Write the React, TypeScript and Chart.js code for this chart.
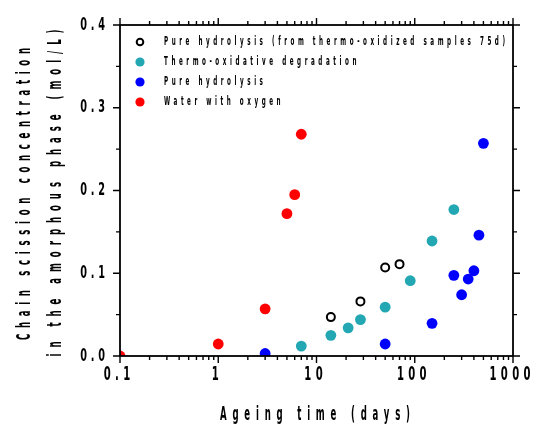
import React, { useEffect, useRef } from "react";
import { Chart, registerables } from "chart.js";

Chart.register(...registerables);

// ---- data ----
const preOxDays = [14, 28, 50, 70];
const preOxConc = [0.047, 0.066, 0.107, 0.111];

const thermoDays = [7, 14, 21, 28, 50, 90, 150, 250];
const thermoConc = [0.012, 0.025, 0.034, 0.044, 0.059, 0.091, 0.139, 0.177];

const pureDays = [3, 50, 150, 250, 300, 350, 400, 450, 500];
const pureConc = [0.003, 0.0145, 0.0395, 0.0975, 0.074, 0.093, 0.103, 0.146, 0.257];

const waterDays = [0.1, 1, 3, 5, 6, 7];
const waterConc = [0.0, 0.0145, 0.057, 0.172, 0.195, 0.268];

const seriesNames = [
  "Pure hydrolysis (from thermo-oxidized samples 75d)",
  "Thermo-oxidative degradation",
  "Pure hydrolysis",
  "Water with oxygen",
];

const xTickValues = [0.1, 1, 10, 100, 1000];
const xTickLabels = ["0.1", "1", "10", "100", "1000"];
const yTickValues = [0, 0.1, 0.2, 0.3, 0.4];
const yTickLabels = ["0.0", "0.1", "0.2", "0.3", "0.4"];

const xTitle = "Ageing time (days)";
const yTitle1 = "Chain scission concentration";
const yTitle2 = "in the amorphous phase (mol/L)";

const TEAL = "#22A7B3";
const FONT = "'Liberation Sans Narrow', 'DejaVu Sans Condensed', 'Arial Narrow', sans-serif";

type TOpts = {
  size: number;
  bold?: boolean;
  sx: number;
  spacing?: number;
  width?: number;
  align: "left" | "center" | "right";
  rotate?: number;
};

function drawText(ctx: CanvasRenderingContext2D, text: string, x: number, y: number, o: TOpts) {
  ctx.save();
  ctx.font = `${o.bold ? "bold " : ""}${o.size}px ${FONT}`;
  (ctx as any).letterSpacing = "0px";
  const nat = ctx.measureText(text).width;
  const n = Array.from(text).length;
  let spacing = o.spacing ?? 0;
  if (o.width != null && n > 1) spacing = (o.width - nat * o.sx) / (n - 1);
  const total = nat * o.sx + spacing * (n - 1);
  ctx.translate(x, y);
  if (o.rotate) ctx.rotate(o.rotate);
  const start = o.align === "left" ? 0 : o.align === "center" ? -total / 2 : -total;
  ctx.scale(o.sx, 1);
  (ctx as any).letterSpacing = `${spacing / o.sx}px`;
  ctx.textAlign = "left";
  ctx.textBaseline = "middle";
  ctx.fillStyle = "#000";
  ctx.fillText(text, start / o.sx, 0);
  ctx.restore();
  return spacing;
}

const decorPlugin = {
  id: "decor",
  afterDatasetsDraw(chart: any) {
    const { ctx, chartArea: a, scales } = chart;
    const xs = scales.x;
    const ys = scales.y;
    ctx.save();
    ctx.strokeStyle = "#000";
    ctx.lineWidth = 1.8;
    ctx.strokeRect(a.left, a.top, a.right - a.left, a.bottom - a.top);
    ctx.lineWidth = 1.4;
    ctx.beginPath();
    const xt: [number, boolean][] = [];
    for (let d = -1; d <= 2; d++) {
      for (let k = 1; k <= 9; k++) xt.push([k * Math.pow(10, d), k === 1]);
    }
    xt.push([1000, true]);
    for (const [v, major] of xt) {
      const px = xs.getPixelForValue(v);
      const len = major ? 7 : 4;
      ctx.moveTo(px, a.bottom);
      ctx.lineTo(px, a.bottom + len);
      ctx.moveTo(px, a.top);
      ctx.lineTo(px, a.top - len);
    }
    for (let i = 0; i <= 8; i++) {
      const py = ys.getPixelForValue(i * 0.05);
      const len = i % 2 === 0 ? 7 : 4;
      ctx.moveTo(a.left, py);
      ctx.lineTo(a.left - len, py);
      ctx.moveTo(a.right, py);
      ctx.lineTo(a.right + len, py);
    }
    ctx.stroke();
    ctx.restore();
  },
  afterDraw(chart: any) {
    const { ctx, chartArea: a, scales } = chart;
    const xs = scales.x;
    const ys = scales.y;
    // tick labels
    xTickValues.forEach((v, i) => {
      drawText(ctx, xTickLabels[i], xs.getPixelForValue(v) - 3, a.bottom + 19, {
        size: 20, bold: true, sx: 0.56, spacing: 4.3, align: "center",
      });
    });
    yTickValues.forEach((v, i) => {
      drawText(ctx, yTickLabels[i], a.left - 15, ys.getPixelForValue(v), {
        size: 18, bold: true, sx: 0.6, spacing: 3.8, align: "right",
      });
    });
    // axis titles
    drawText(ctx, xTitle, 315, 415, { size: 19, bold: true, sx: 0.5, width: 190, align: "center" });
    drawText(ctx, yTitle1, 25, 194, { size: 19, bold: true, sx: 0.5, width: 292, align: "center", rotate: -Math.PI / 2 });
    drawText(ctx, yTitle2, 56, 193, { size: 19, bold: true, sx: 0.5, width: 327, align: "center", rotate: -Math.PI / 2 });
    // legend
    const rows = [42, 62, 82, 102];
    const mx = 140;
    const tx = 164;
    let sp = 0;
    seriesNames.forEach((name, i) => {
      const y = rows[i];
      ctx.save();
      ctx.beginPath();
      if (i === 0) {
        ctx.arc(mx, y, 3.3, 0, Math.PI * 2);
        ctx.strokeStyle = "#000";
        ctx.lineWidth = 2;
        ctx.stroke();
      } else {
        ctx.arc(mx, y, 4.6, 0, Math.PI * 2);
        ctx.fillStyle = i === 1 ? TEAL : i === 2 ? "#0000FF" : "#FF0000";
        ctx.fill();
      }
      ctx.restore();
      if (i === 0) {
        sp = drawText(ctx, name, tx, y, { size: 12.5, bold: true, sx: 0.5, width: 341, align: "left" });
      } else {
        drawText(ctx, name, tx, y, { size: 12.5, bold: true, sx: 0.5, spacing: sp, align: "left" });
      }
    });
  },
};

function toPoints(xs: number[], ys: number[]) {
  return xs.map((x, i) => ({ x, y: ys[i] }));
}

export default function App() {
  const ref = useRef<HTMLCanvasElement | null>(null);
  useEffect(() => {
    if (!ref.current) return;
    const chart = new Chart(ref.current, {
      type: "scatter",
      data: {
        datasets: [
          {
            label: seriesNames[0],
            data: toPoints(preOxDays, preOxConc),
            backgroundColor: "rgba(0,0,0,0)",
            borderColor: "#000",
            borderWidth: 2,
            pointRadius: 4,
            clip: 0,
          },
          {
            label: seriesNames[1],
            data: toPoints(thermoDays, thermoConc),
            backgroundColor: TEAL,
            borderWidth: 0,
            pointRadius: 5.4,
            clip: 0,
          },
          {
            label: seriesNames[2],
            data: toPoints(pureDays, pureConc),
            backgroundColor: "#0000FF",
            borderWidth: 0,
            pointRadius: 5.4,
            clip: 0,
          },
          {
            label: seriesNames[3],
            data: toPoints(waterDays, waterConc),
            backgroundColor: "#FF0000",
            borderWidth: 0,
            pointRadius: 5.4,
            clip: 0,
          },
        ],
      },
      options: {
        animation: false,
        responsive: false,
        events: [],
        layout: { padding: { top: 25, right: 20, left: 0, bottom: 0 } },
        plugins: { legend: { display: false }, tooltip: { enabled: false } },
        scales: {
          x: {
            type: "logarithmic",
            min: 0.1,
            max: 1000,
            grid: { display: false },
            border: { display: false },
            ticks: { display: false },
            afterFit: (s: any) => { s.height = 69; },
          },
          y: {
            type: "linear",
            min: 0,
            max: 0.4,
            grid: { display: false },
            border: { display: false },
            ticks: { display: false, stepSize: 0.1 },
            afterFit: (s: any) => { s.width = 120; },
          },
        },
      },
      plugins: [decorPlugin],
    } as any);
    return () => chart.destroy();
  }, []);
  return (
    <div style={{ position: "absolute", left: 0, top: 0, width: 533, height: 425, background: "#fff" }}>
      <canvas ref={ref} width={533} height={425} style={{ display: "block" }} />
    </div>
  );
}
